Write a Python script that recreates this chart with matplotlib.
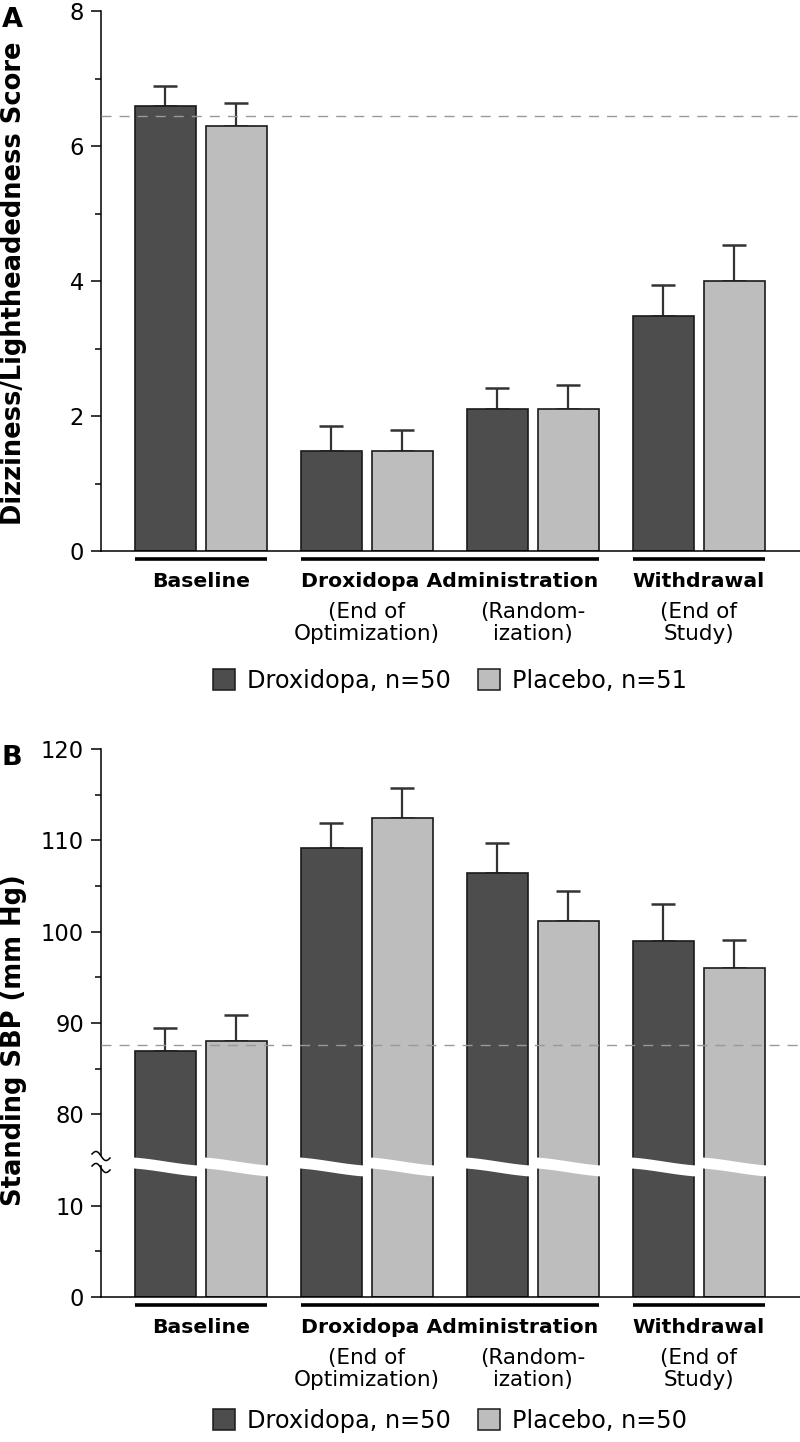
import numpy as np
import matplotlib
matplotlib.use("Agg")
import matplotlib.pyplot as plt
from matplotlib.patches import Patch, Rectangle

# ---- data ----
TIMEPOINTS = ["Baseline", "End of Optimization", "Randomization", "End of Study"]
SUBLABELS = ["", "(End of\nOptimization)", "(Random-\nization)", "(End of\nStudy)"]
PHASES = [("Baseline", [0]), ("Droxidopa Administration", [1, 2]), ("Withdrawal", [3])]

A_DROX = [6.60, 1.48, 2.10, 3.48]
A_DROX_ERR = [0.29, 0.37, 0.32, 0.46]
A_PLAC = [6.30, 1.48, 2.10, 4.00]
A_PLAC_ERR = [0.33, 0.32, 0.36, 0.53]
A_REF = 6.44

B_DROX = [86.9, 109.2, 106.4, 99.0]
B_DROX_ERR = [2.6, 2.7, 3.3, 4.0]
B_PLAC = [88.0, 112.4, 101.2, 96.0]
B_PLAC_ERR = [2.9, 3.3, 3.3, 3.1]
B_REF = 87.6

A_LEGEND = ["Droxidopa, n=50", "Placebo, n=51"]
B_LEGEND = ["Droxidopa, n=50", "Placebo, n=50"]

DARK, LIGHT, EDGE, ERRC = "#4d4d4d", "#bdbdbd", "#1a1a1a", "#333333"
W_PX, H_PX = 800, 1442
BAR_W, OFF = 0.367, 0.214
BRK_LO, BRK_HI = 15.0, 75.0


def fwd(y):
    y = np.asarray(y, dtype=float)
    return np.where(y <= BRK_LO, y, np.where(y >= BRK_HI, y - (BRK_HI - BRK_LO), BRK_LO))


def inv(y):
    y = np.asarray(y, dtype=float)
    return np.where(y <= BRK_LO, y, y + (BRK_HI - BRK_LO))


fig = plt.figure(figsize=(W_PX / 100, H_PX / 100), dpi=100)
ax_a = fig.add_axes([101 / W_PX, 1 - 551 / H_PX, 1 - 101 / W_PX, 540 / H_PX])
ax_b = fig.add_axes([101 / W_PX, 1 - 1297 / H_PX, 1 - 101 / W_PX, 548 / H_PX])


def ax_h(ax):
    return ax.get_position().height * H_PX


def draw_bars(ax, drox, drox_err, plac, plac_err, ref):
    x = np.arange(len(TIMEPOINTS))
    for vals, errs, col, dx in [(drox, drox_err, DARK, -OFF), (plac, plac_err, LIGHT, OFF)]:
        ax.bar(x + dx, vals, BAR_W, color=col, edgecolor=EDGE, linewidth=1.2, zorder=2)
        ax.errorbar(x + dx, vals, yerr=[np.zeros(len(vals)), errs], fmt="none",
                    ecolor=ERRC, elinewidth=1.6, capsize=8.3, capthick=1.8, zorder=1.5)
    ax.axhline(ref, color="#999999", linewidth=1.0, dashes=(7.2, 5.8), zorder=3)
    for s in ("top", "right"):
        ax.spines[s].set_visible(False)
    for s in ("left", "bottom"):
        ax.spines[s].set_linewidth(1.1)
    ax.set_xlim(-0.602, 3.609)
    ax.set_xticks([])
    ax.tick_params(axis="y", which="major", length=7.2, width=1.1, pad=5, labelsize=16.3)
    ax.tick_params(axis="y", which="minor", length=4.3, width=1.1)

    # phase brackets and labels under the axis
    h = ax_h(ax)
    tr = ax.get_xaxis_transform()
    for name, idx in PHASES:
        x0 = idx[0] - OFF - BAR_W / 2
        x1 = idx[-1] + OFF + BAR_W / 2
        ax.plot([x0, x1], [-8 / h, -8 / h], color="black", lw=2.6,
                solid_capstyle="butt", transform=tr, clip_on=False)
        ax.text((idx[0] + idx[-1]) / 2, -36 / h, name, transform=tr, ha="center",
                va="baseline", fontsize=14.7, fontweight="bold")
    for i, sub in enumerate(SUBLABELS):
        if not sub:
            continue
        l1, l2 = sub.split("\n")
        ax.text(i, -67 / h, l1, transform=tr, ha="center", va="baseline", fontsize=15.5)
        ax.text(i, -89 / h, l2, transform=tr, ha="center", va="baseline", fontsize=15.5)


def add_legend(labels, y_px):
    handles = [Patch(facecolor=DARK, edgecolor=EDGE, linewidth=1.1, label=labels[0]),
               Patch(facecolor=LIGHT, edgecolor=EDGE, linewidth=1.1, label=labels[1])]
    fig.legend(handles=handles, loc="center", bbox_to_anchor=(450 / W_PX, 1 - y_px / H_PX),
               ncol=2, frameon=False, fontsize=17.3, handlelength=0.92, handleheight=0.96,
               handletextpad=0.5, columnspacing=1.1, borderpad=0, borderaxespad=0)


# ---- panel A ----
draw_bars(ax_a, A_DROX, A_DROX_ERR, A_PLAC, A_PLAC_ERR, A_REF)
ax_a.set_ylim(0, 8)
ax_a.set_yticks([0, 2, 4, 6, 8])
ax_a.set_yticks([1, 3, 5, 7], minor=True)
add_legend(A_LEGEND, 681)

# ---- panel B (broken axis) ----
ax_b.set_yscale("function", functions=(fwd, inv))
draw_bars(ax_b, B_DROX, B_DROX_ERR, B_PLAC, B_PLAC_ERR, B_REF)
ax_b.set_ylim(0, 120)
ax_b.set_yticks([0, 10, 80, 90, 100, 110, 120])
ax_b.set_yticklabels(["0", "10", "80", "90", "100", "110", "120"])
ax_b.set_yticks([5, 85, 95, 105, 115], minor=True)
add_legend(B_LEGEND, 1421)

# white wavy cut across each bar
hb = ax_h(ax_b)
trb = ax_b.get_xaxis_transform()
t = np.linspace(0, 1, 40)
shape = 0.6 * t + 0.4 * 0.5 * (1 - np.cos(np.pi * t))
for i in range(len(TIMEPOINTS)):
    for dx in (-OFF, OFF):
        xs = i + dx - BAR_W / 2 - 0.01 + (BAR_W + 0.02) * t
        top = 1157 + 8 * shape
        bot = top + 11
        ax_b.fill_between(xs, (1297 - top) / hb, (1297 - bot) / hb, color="white",
                          linewidth=0, transform=trb, zorder=4)

# break marks on the y axis
wb = ax_b.get_position().width * W_PX
ax_b.add_patch(Rectangle(((96 - 101) / wb, (1297 - 1165) / hb), 10 / wb, 9 / hb,
                         transform=ax_b.transAxes, facecolor="white", edgecolor="none",
                         clip_on=False, zorder=5))
u = np.linspace(0, 1, 30)
for yc in (1154, 1166):
    xs = (92 + 18 * u - 101) / wb
    ys = (1297 - (yc - 3.5 * np.sin(2 * np.pi * u) + 4 * u)) / hb
    ax_b.plot(xs, ys, color="black", lw=1.1, transform=ax_b.transAxes,
              clip_on=False, zorder=6)

# y labels and panel letters
fig.text(14 / W_PX, 1 - 283 / H_PX, "Dizziness/Lightheadedness Score", rotation=90,
         ha="center", va="center", fontsize=18.5, fontweight="bold")
fig.text(14 / W_PX, 1 - 1040 / H_PX, "Standing SBP (mm Hg)", rotation=90,
         ha="center", va="center", fontsize=18.5, fontweight="bold")
fig.text(12 / W_PX, 1 - 20 / H_PX, "A", ha="center", va="center",
         fontsize=19.5, fontweight="bold")
fig.text(12 / W_PX, 1 - 758 / H_PX, "B", ha="center", va="center",
         fontsize=19.5, fontweight="bold")

fig.savefig("out.png", dpi=100)
